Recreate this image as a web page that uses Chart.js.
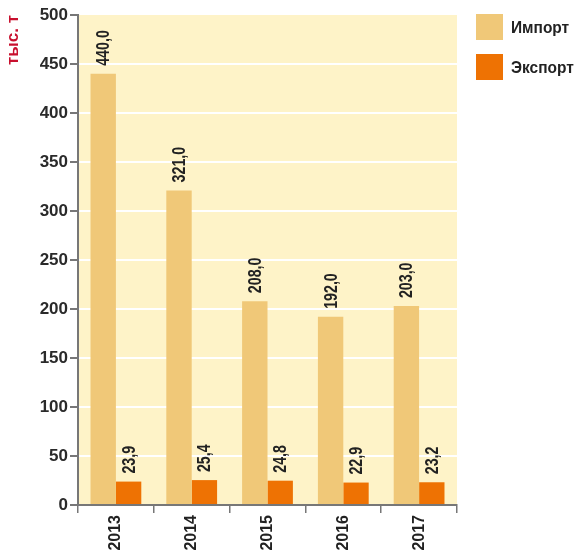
<!DOCTYPE html>
<html>
<head>
<meta charset="utf-8">
<script src="https://cdn.jsdelivr.net/npm/chart.js@4"></script>
<style>
html,body{margin:0;padding:0;background:#fff;}
#wrap{width:579px;height:554px;}
</style>
</head>
<body>
<div id="wrap"><canvas id="c" width="579" height="554"></canvas></div>
<script>
const categories = ['2013', '2014', '2015', '2016', '2017'];
const importValues = [440.0, 321.0, 208.0, 192.0, 203.0];
const exportValues = [23.9, 25.4, 24.8, 22.9, 23.2];
const seriesNames = ['Импорт', 'Экспорт'];
const yTitle = 'тыс. т';

const fmt = v => v.toFixed(1).replace('.', ',');

const bgPlugin = {
  id: 'bg',
  beforeDraw(chart) {
    const {ctx, chartArea: a} = chart;
    ctx.save();
    ctx.fillStyle = '#FEF3C8';
    ctx.fillRect(a.left, a.top, a.right - a.left, a.bottom - a.top);
    ctx.restore();
  }
};

const labelPlugin = {
  id: 'vlabels',
  afterDatasetsDraw(chart) {
    const ctx = chart.ctx;
    ctx.save();
    ctx.font = 'bold 18px "Liberation Sans", Arial, sans-serif';
    ctx.fillStyle = '#222';
    ctx.textAlign = 'left';
    ctx.textBaseline = 'middle';
    chart.data.datasets.forEach((ds, di) => {
      chart.getDatasetMeta(di).data.forEach((bar, i) => {
        ctx.save();
        ctx.translate(bar.x + 1, bar.y - 8);
        ctx.rotate(-Math.PI / 2);
        ctx.scale(0.79, 1);
        ctx.fillText(fmt(ds.data[i]), 0, 0);
        ctx.restore();
      });
    });
    ctx.restore();
  }
};

const legendPlugin = {
  id: 'customLegend',
  afterDraw(chart) {
    const ctx = chart.ctx;
    ctx.save();
    ctx.font = 'bold 17px "Liberation Sans", Arial, sans-serif';
    ctx.textBaseline = 'middle';
    ctx.textAlign = 'left';
    chart.data.datasets.forEach((ds, i) => {
      const y = 14 + i * 40;
      ctx.fillStyle = ds.backgroundColor;
      ctx.fillRect(476, y, 27, 26);
      ctx.fillStyle = '#222';
      ctx.save();
      ctx.translate(511, y + 14);
      ctx.scale(0.91, 1);
      ctx.fillText(ds.label, 0, 0);
      ctx.restore();
    });
    ctx.restore();
  }
};

new Chart(document.getElementById('c'), {
  type: 'bar',
  data: {
    labels: categories,
    datasets: [
      { label: seriesNames[0], data: importValues, backgroundColor: '#F0C878' },
      { label: seriesNames[1], data: exportValues, backgroundColor: '#EE7203' }
    ]
  },
  options: {
    responsive: false,
    animation: false,
    devicePixelRatio: 1,
    layout: { padding: { top: 15, right: 122, bottom: 0, left: 0 } },
    datasets: { bar: { categoryPercentage: 0.67, barPercentage: 1.0 } },
    plugins: { legend: { display: false }, tooltip: { enabled: false } },
    scales: {
      x: {
        grid: { display: true, drawOnChartArea: false, offset: true, color: '#777', tickLength: 8, lineWidth: 1.5 },
        border: { display: true, color: '#777', width: 2 },
        ticks: {
          color: '#222', maxRotation: 90, minRotation: 90, padding: 2,
          font: { family: '"Liberation Sans", Arial, sans-serif', size: 16, weight: 'bold' }
        },
        afterFit(scale) { scale.height = 49; }
      },
      y: {
        min: 0, max: 500,
        grid: {
          color: ctx => (ctx.tick && (ctx.tick.value === 0 || ctx.tick.value === 500)) ? 'rgba(0,0,0,0)' : '#FFFFFF',
          tickColor: '#777', tickLength: 8, lineWidth: 2
        },
        border: { display: true, color: '#777', width: 2 },
        ticks: {
          stepSize: 50, color: '#2a2a2a', padding: 2,
          font: { family: '"Liberation Sans", Arial, sans-serif', size: 17, weight: 'bold' }
        },
        title: {
          display: true, text: yTitle, align: 'end', color: '#C8102E',
          font: { family: '"Liberation Sans", Arial, sans-serif', size: 17, weight: 'bold' },
          padding: { top: 3, bottom: 0 }
        },
        afterFit(scale) { scale.width = 78; }
      }
    }
  },
  plugins: [bgPlugin, labelPlugin, legendPlugin]
});
</script>
</body>
</html>
